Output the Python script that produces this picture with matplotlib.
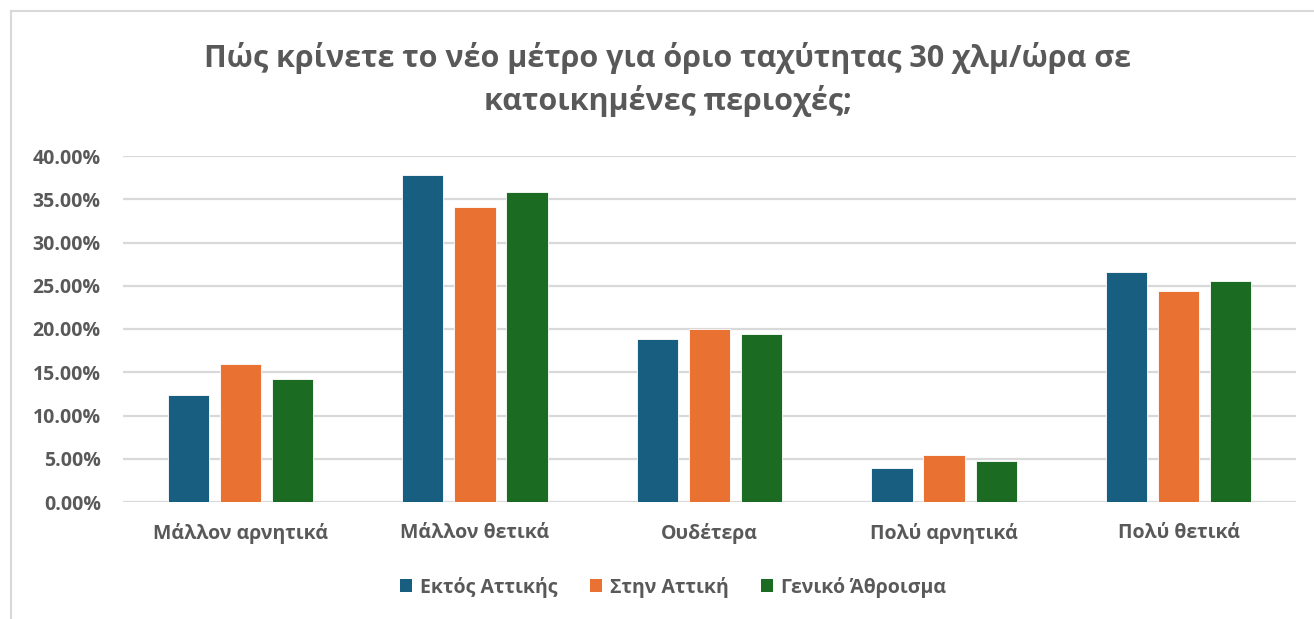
import numpy as np
import matplotlib
matplotlib.use('Agg')
import matplotlib.pyplot as plt
from matplotlib.lines import Line2D
from matplotlib.patches import Patch

plt.rcParams['font.family'] = ['Open Sans', 'DejaVu Sans']

# Ποσοστά απαντήσεων ανά κατηγορία
categories = ['Μάλλον αρνητικά', 'Μάλλον θετικά', 'Ουδέτερα', 'Πολύ αρνητικά', 'Πολύ θετικά']
series_names = ['Εκτός Αττικής', 'Στην Αττική', 'Γενικό Άθροισμα']
ektos_attikis = [12.4, 37.8, 18.9, 3.9, 26.6]
stin_attiki = [16.0, 34.1, 20.0, 5.4, 24.4]
geniko_athroisma = [14.2, 35.8, 19.4, 4.7, 25.6]
yticks = [0, 5, 10, 15, 20, 25, 30, 35, 40]

colors = ['#175E80', '#E97132', '#1B6B23']
text_grey = '#595959'

W, H = 1314, 619
fig = plt.figure(figsize=(W / 100, H / 100), dpi=100)

# περίγραμμα γραφήματος (πάνω και αριστερά)
fig.add_artist(Line2D([11 / W, 1.0], [1 - 11 / H, 1 - 11 / H], color='#D9D9D9', lw=1.5))
fig.add_artist(Line2D([11 / W, 11 / W], [0, 1 - 11 / H], color='#D9D9D9', lw=1.5))

ax = fig.add_axes([123 / W, 1 - 502 / H, (1296 - 123) / W, (502 - 156) / H])

x = np.arange(len(categories))
step = 0.222
width = 0.176
for i, (vals, c) in enumerate(zip([ektos_attikis, stin_attiki, geniko_athroisma], colors)):
    ax.bar(x + (i - 1) * step, vals, width, color=c, edgecolor='white', linewidth=0.6, zorder=3)

ax.set_xlim(-0.5, len(categories) - 0.5)
ax.set_ylim(0, 40)
ax.set_yticks(yticks)
ax.set_yticklabels([f'{v:.2f}%' for v in yticks])
ax.set_xticks(x)
ax.set_xticklabels(categories)
ax.grid(axis='y', color='#D9D9D9', lw=1.6, zorder=0)
ax.tick_params(length=0, labelsize=14, labelcolor=text_grey)
ax.tick_params(axis='y', pad=16)
ax.tick_params(axis='x', pad=15)
for lbl in ax.get_xticklabels() + ax.get_yticklabels():
    lbl.set_fontweight('bold')
for s in ax.spines.values():
    s.set_visible(False)

fig.text(668 / W, 1 - 58 / H, 'Πώς κρίνετε το νέο μέτρο για όριο ταχύτητας 30 χλμ/ώρα σε',
         ha='center', va='center', fontsize=22, fontweight='bold', color=text_grey)
fig.text(668 / W, 1 - 101 / H, 'κατοικημένες περιοχές;',
         ha='center', va='center', fontsize=22, fontweight='bold', color=text_grey)

handles = [Patch(facecolor=c, edgecolor='none') for c in colors]
leg = fig.legend(handles, series_names, loc='center', bbox_to_anchor=(673 / W, 1 - 587 / H),
                 ncol=3, frameon=False, handlelength=0.6, handleheight=0.65,
                 handletextpad=0.4, columnspacing=1.7,
                 prop={'size': 14, 'weight': 'bold'})
for t in leg.get_texts():
    t.set_color(text_grey)

fig.savefig('out.png', dpi=100, facecolor='white')
